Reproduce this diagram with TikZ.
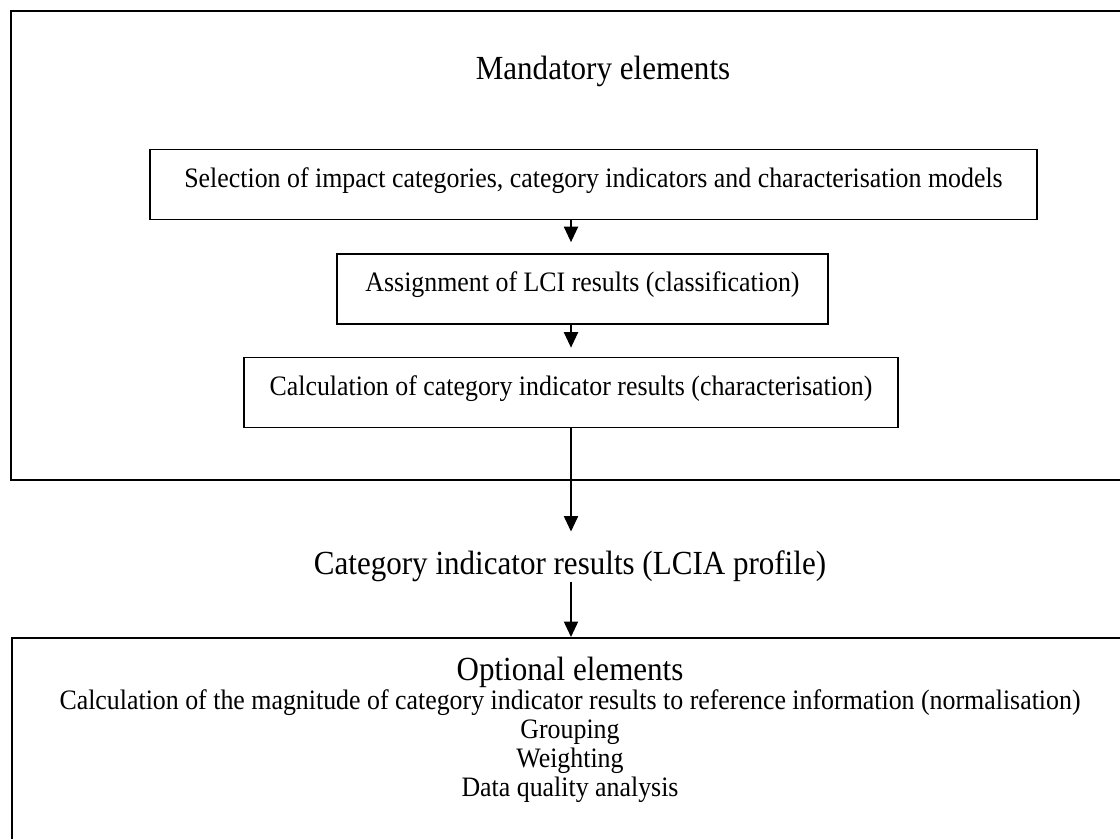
\documentclass[tikz,border=0pt]{standalone}
\usepackage{fontspec}
\setmainfont[FakeStretch=0.92]{Liberation Serif}
\usetikzlibrary{arrows.meta,positioning,calc}

\begin{document}
\begin{tikzpicture}[x=0.025cm,y=-0.025cm,
    outerbox/.style={draw,line width=1.5pt,anchor=north west,minimum width=28.3cm},
    stepbox/.style={draw,line width=1.2pt,minimum height=1.75cm,text depth=10pt,font=\fontsize{20}{24}\selectfont},
    bigtext/.style={anchor=base,inner sep=0pt,font=\fontsize{24}{28}\selectfont},
    smalltext/.style={anchor=base,inner sep=0pt,font=\fontsize{20}{24}\selectfont},
    arr/.style={line width=1.3pt,-{Triangle[length=11pt,width=10pt]}}]
                \useasboundingbox (0,0) rectangle (1120,838);
                % mandatory elements
                \node[outerbox,minimum height=11.725cm] (mand) at (10,10) {};
                \node[bigtext] (mandtitle) at (603,79) {Mandatory elements};
                \node[stepbox,minimum width=22.175cm] (select) at (593.5,184.5) {Selection of impact categories, category indicators and characterisation models};
                \node[stepbox,minimum width=12.275cm] (assign) at (582.5,289) {Assignment of LCI results (classification)};
                \node[stepbox,minimum width=16.35cm] (charac) at (571,392.5) {Calculation of category indicator results (characterisation)};
                % profile
                \node[bigtext] (profile) at (570,574) {Category indicator results (LCIA profile)};
                % optional elements
                \node[outerbox,minimum height=6.5cm] (opt) at (11,637) {};
                \node[bigtext] (opttitle) at (570,680) {Optional elements};
                \foreach \txt [count=\i] in {Calculation of the magnitude of category indicator results to reference information (normalisation),Grouping,Weighting,Data quality analysis} {
                    \node[smalltext] (opt\i) at (570,{680+29*\i}) {\txt};
                }
                \draw[arr,shorten >=0.275cm] (select.south -| charac) -- (assign.north -| charac);
                \draw[arr,shorten >=0.225cm] (assign.south -| charac) -- (charac.north);
                \draw[arr,shorten >=0.46cm] (charac.south) -- (profile.north -| charac);
                \draw[arr] (profile.south -| charac) -- (opt.north -| charac);
            \end{tikzpicture}
\end{document}
